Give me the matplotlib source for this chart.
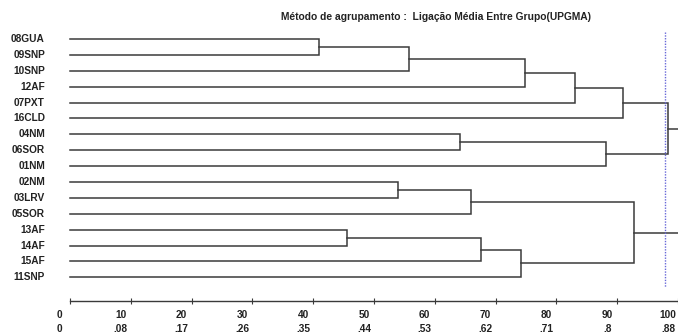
import matplotlib
matplotlib.use("Agg")
import matplotlib.pyplot as plt
import matplotlib.transforms as mtransforms

plt.rcParams['font.family'] = ['Liberation Sans', 'DejaVu Sans']

# leaves in plotting order, top to bottom
leaves = ['08GUA', '09SNP', '10SNP', '12AF', '07PXT', '16CLD', '04NM', '06SOR',
          '01NM', '02NM', '03LRV', '05SOR', '13AF', '14AF', '15AF', '11SNP']

# linkage: node 16 + k joins merge_a[k] and merge_b[k] at merge_h[k] (rescaled distance)
merge_a = [0, 16, 17, 18, 19, 6, 21, 20, 9, 24, 12, 26, 27, 25, 23]
merge_b = [1, 2, 3, 4, 5, 7, 8, 22, 10, 11, 13, 14, 15, 28, 29]
merge_h = [40.9, 55.8, 74.8, 83.1, 90.9, 64.2, 88.1, 98.4,
           53.9, 65.9, 45.6, 67.6, 74.1, 92.8, 104.0]

cut_level = 97.9

ticks = [0, 10, 20, 30, 40, 50, 60, 70, 80, 90, 100]
ticks_raw = ['0', '.08', '.17', '.26', '.35', '.44', '.53', '.62', '.71', '.8', '.88']

fig = plt.figure(figsize=(6.78, 3.35), dpi=100)
ax = fig.add_axes([0, 0, 1, 1])
ax.set_xlim(-11.5, 99.6)
ax.set_ylim(18.63, -2.454)

line_c = '#3a3a3a'
txt_c = '#222222'
n = len(leaves)
pos_y = {i: float(i) for i in range(n)}
pos_x = {i: 0.0 for i in range(n)}

for k, (a, b, h) in enumerate(zip(merge_a, merge_b, merge_h)):
    node = n + k
    ax.plot([pos_x[a], h, h, pos_x[b]], [pos_y[a], pos_y[a], pos_y[b], pos_y[b]],
            color=line_c, lw=1.1, solid_joinstyle='miter')
    pos_x[node] = h
    pos_y[node] = (pos_y[a] + pos_y[b]) / 2

for i, name in enumerate(leaves):
    ax.text(-4.1, i, name, ha='right', va='center', fontsize=7.3,
            fontweight='bold', color=txt_c)

# cut line
ax.plot([cut_level, cut_level], [-0.46, 15.59], color='#6868d8', lw=1.0,
        linestyle=(0, (1, 1)))

ax.text(60.2, -1.38, 'Método de agrupamento :  Ligação Média Entre Grupo(UPGMA)',
        ha='center', va='center', fontsize=7.4, fontweight='bold', color=txt_c)

# distance axis
for s in ['top', 'left', 'right']:
    ax.spines[s].set_visible(False)
ax.spines['bottom'].set_position(('data', 16.47))
ax.spines['bottom'].set_bounds(0, 100)
ax.spines['bottom'].set_color(line_c)
ax.spines['bottom'].set_linewidth(1.0)
ax.set_yticks([])
ax.set_xticks(ticks)
ax.set_xticklabels([f'{a}\n{b}' for a, b in zip(ticks, ticks_raw)])
ax.tick_params(axis='x', direction='inout', length=4, width=0.8, color=line_c,
               pad=5, labelsize=7.3, labelcolor=txt_c)
shift = mtransforms.ScaledTranslation(-10 / 100, 0, fig.dpi_scale_trans)
for lab in ax.get_xticklabels():
    lab.set_fontweight('bold')
    lab.set_linespacing(1.4)
    lab.set_transform(lab.get_transform() + shift)

plt.savefig('out.png', format='png', dpi=100)
